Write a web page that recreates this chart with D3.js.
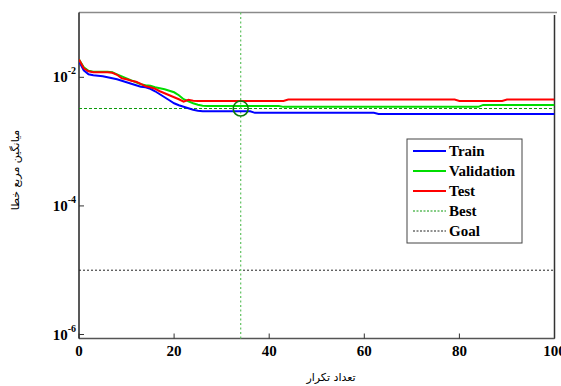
<!DOCTYPE html>
<html><head><meta charset="utf-8">
<script src="https://cdn.jsdelivr.net/npm/d3@7"></script>
<style>body{margin:0;background:#fff}svg{display:block}</style>
</head><body>
<svg id="c" width="561" height="386"></svg>
<script>
const epochs = d3.range(0, 101);
const train = [0.0177,0.01285,0.01114,0.01074,0.01055,0.01037,0.0100,0.00965,0.00931,0.00882,
0.00837,0.00793,0.00752,0.00712,0.00700,0.00663,0.00607,0.00545,0.00490,0.00440,
0.00395,0.00368,0.00349,0.00331,0.00313,0.00303,0.00297,0.00297,0.00297,0.00297,
0.00297,0.00297,0.00297,0.00297,0.00297,0.00297,0.00297,0.00280,0.00280,0.00280,
0.00280,0.00280,0.00280,0.00280,0.00280,0.00280,0.00280,0.00280,0.00280,0.00280,
0.00280,0.00280,0.00280,0.00280,0.00280,0.00280,0.00280,0.00280,0.00280,0.00280,
0.00280,0.00280,0.00280,0.00270,0.00270,0.00270,0.00270,0.00270,0.00270,0.00270,
0.00270,0.00270,0.00270,0.00270,0.00270,0.00270,0.00270,0.00270,0.00270,0.00270,
0.00270,0.00270,0.00270,0.00270,0.00270,0.00270,0.00270,0.00270,0.00270,0.00270,
0.00270,0.00270,0.00270,0.00270,0.00270,0.00270,0.00270,0.00270,0.00270,0.00270,0.00270];
const validation = [0.0190,0.01429,0.01262,0.01217,0.01217,0.01217,0.01217,0.01196,0.01114,0.01037,
0.00965,0.00898,0.00837,0.00779,0.00752,0.00738,0.00700,0.00675,0.00652,0.00618,
0.00585,0.00526,0.00456,0.00425,0.00395,0.00375,0.00362,0.00359,0.00359,0.00359,
0.00359,0.00359,0.00359,0.00359,0.00359,0.00359,0.00359,0.00359,0.00359,0.00359,
0.00359,0.00359,0.00359,0.00347,0.00347,0.00347,0.00347,0.00347,0.00347,0.00347,
0.00347,0.00347,0.00347,0.00347,0.00347,0.00347,0.00347,0.00347,0.00347,0.00347,
0.00347,0.00347,0.00347,0.00347,0.00347,0.00347,0.00347,0.00347,0.00347,0.00347,
0.00347,0.00347,0.00347,0.00347,0.00347,0.00347,0.00347,0.00347,0.00347,0.00347,
0.00347,0.00347,0.00347,0.00347,0.00347,0.00372,0.00372,0.00372,0.00372,0.00372,
0.00372,0.00372,0.00372,0.00372,0.00372,0.00372,0.00372,0.00372,0.00372,0.00372,0.00372];
const test = [0.0190,0.0138,0.01239,0.01196,0.01196,0.01196,0.01196,0.01175,0.01094,0.00965,
0.00931,0.00882,0.00851,0.00793,0.00725,0.00700,0.00663,0.00607,0.00565,0.00526,
0.00490,0.00456,0.00417,0.00448,0.00432,0.00430,0.00430,0.00430,0.00430,0.00430,
0.00430,0.00430,0.00430,0.00430,0.00430,0.00430,0.00430,0.00430,0.00430,0.00430,
0.00430,0.00430,0.00430,0.00430,0.00451,0.00451,0.00451,0.00451,0.00451,0.00451,
0.00451,0.00451,0.00451,0.00451,0.00451,0.00451,0.00451,0.00451,0.00451,0.00451,
0.00451,0.00451,0.00451,0.00451,0.00451,0.00451,0.00451,0.00451,0.00451,0.00451,
0.00451,0.00451,0.00451,0.00451,0.00451,0.00451,0.00451,0.00451,0.00451,0.00451,
0.00430,0.00430,0.00430,0.00430,0.00430,0.00430,0.00430,0.00430,0.00430,0.00430,
0.00451,0.00451,0.00451,0.00451,0.00451,0.00451,0.00451,0.00451,0.00451,0.00451,0.00451];
const bestEpoch = 34;
const bestValue = 0.00327;
const goalValue = 1e-5;
const xTicks = [0, 20, 40, 60, 80, 100];
const yTickExps = [-2, -4, -6];
const legendLabels = ["Train", "Validation", "Test", "Best", "Goal"];
const xLabel = "تعداد تکرار";
const yLabel = "میانگین مربع خطا";

const L = 79, R = 554.5, T = 12.5, B = 338.5;
const x = d3.scaleLinear().domain([0, 100]).range([L, R]);
const y = d3.scaleLog().domain([Math.pow(10, -6.062), Math.pow(10, -0.992)]).range([B, T]);
const svg = d3.select("#c");
const serif = "'Liberation Serif','Times New Roman',serif";

svg.append("defs").append("clipPath").attr("id", "clip")
  .append("rect").attr("x", L).attr("y", T).attr("width", R - L).attr("height", B - T);

// frame
svg.append("line").attr("x1", L).attr("x2", 557).attr("y1", T).attr("y2", T)
  .attr("stroke", "#8a8a8a").attr("stroke-width", 1.6);
svg.append("line").attr("x1", R).attr("x2", R).attr("y1", 15).attr("y2", B)
  .attr("stroke", "#333").attr("stroke-width", 1.5);
svg.append("line").attr("x1", L).attr("x2", R).attr("y1", B).attr("y2", B)
  .attr("stroke", "#555").attr("stroke-width", 1.5);
svg.append("line").attr("x1", L).attr("x2", L).attr("y1", T).attr("y2", B)
  .attr("stroke", "#222").attr("stroke-width", 1.5);

// x ticks
const gx = svg.append("g");
xTicks.forEach(t => {
  gx.append("line").attr("x1", x(t)).attr("x2", x(t)).attr("y1", B).attr("y2", B - 5)
    .attr("stroke", "#333").attr("stroke-width", 1);
  gx.append("text").attr("x", x(t)).attr("y", 356).attr("text-anchor", "middle")
    .attr("font-family", serif).attr("font-weight", "bold").attr("font-size", 15)
    .text(t);
});
// y ticks
const gy = svg.append("g");
yTickExps.forEach(e => {
  const v = Math.pow(10, e);
  gy.append("line").attr("x1", L).attr("x2", L + 5).attr("y1", y(v)).attr("y2", y(v))
    .attr("stroke", "#333").attr("stroke-width", 1);
  const t = gy.append("text").attr("x", 76).attr("y", y(v) + 5).attr("text-anchor", "end")
    .attr("font-family", serif).attr("font-weight", "bold").attr("font-size", 15);
  t.append("tspan").text("10");
  t.append("tspan").attr("dy", -8).attr("font-size", 10).text(String(e));
});

// goal line
svg.append("line").attr("x1", L).attr("x2", R).attr("y1", y(goalValue)).attr("y2", y(goalValue))
  .attr("stroke", "#222").attr("stroke-width", 1).attr("stroke-dasharray", "2,2");
// best lines
svg.append("line").attr("x1", L).attr("x2", R).attr("y1", y(bestValue)).attr("y2", y(bestValue))
  .attr("stroke", "#0a9a0a").attr("stroke-width", 1).attr("stroke-dasharray", "3,2");
svg.append("line").attr("x1", x(bestEpoch)).attr("x2", x(bestEpoch)).attr("y1", T).attr("y2", B)
  .attr("stroke", "#6cc66c").attr("stroke-width", 1.3).attr("stroke-dasharray", "2,2.5");

const line = d3.line().x((d, i) => x(epochs[i])).y(d => y(d));
const gl = svg.append("g").attr("clip-path", "url(#clip)");
[[train, "#0000ff"], [validation, "#00dd00"], [test, "#ff0000"]].forEach(([s, c]) => {
  gl.append("path").datum(s).attr("d", line).attr("fill", "none")
    .attr("stroke", c).attr("stroke-width", 2);
});
svg.append("circle").attr("cx", x(bestEpoch)).attr("cy", y(bestValue)).attr("r", 7.5)
  .attr("fill", "none").attr("stroke", "#0a7a0a").attr("stroke-width", 1.6);

// legend
const lg = svg.append("g");
lg.append("rect").attr("x", 407).attr("y", 139).attr("width", 115).attr("height", 104)
  .attr("fill", "#fff").attr("stroke", "#444").attr("stroke-width", 1);
const legendStyles = [
  {c: "#0000ff", w: 2, d: null},
  {c: "#00dd00", w: 2, d: null},
  {c: "#ff0000", w: 2, d: null},
  {c: "#0a9a0a", w: 1, d: "2,1.5"},
  {c: "#222", w: 1, d: "2,1.5"}
];
legendLabels.forEach((lab, i) => {
  const yy = 151 + i * 20;
  const st = legendStyles[i];
  lg.append("line").attr("x1", 413).attr("x2", 446).attr("y1", yy).attr("y2", yy)
    .attr("stroke", st.c).attr("stroke-width", st.w).attr("stroke-dasharray", st.d);
  lg.append("text").attr("x", 449).attr("y", yy + 5).attr("font-family", serif)
    .attr("font-weight", "bold").attr("font-size", 15).text(lab);
});

// axis labels
svg.append("text").attr("x", 331).attr("y", 381).attr("text-anchor", "middle")
  .attr("font-family", "'DejaVu Sans',sans-serif").attr("font-size", 11).text(xLabel);
svg.append("text").attr("transform", "translate(19,170) rotate(-90)").attr("text-anchor", "middle")
  .attr("font-family", "'DejaVu Sans',sans-serif").attr("font-size", 11).text(yLabel);
</script>
</body></html>
